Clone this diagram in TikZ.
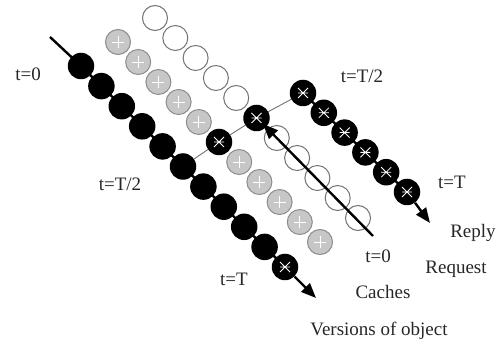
\documentclass[tikz,border=0pt]{standalone}
\usepackage{fontspec}
\setmainfont{Liberation Serif}
\usetikzlibrary{arrows.meta,backgrounds}
\begin{document}
\begin{tikzpicture}[x=1pt,y=-1pt,
  bk/.style={circle,fill=black,minimum size=26.5pt,inner sep=0pt},
  gy/.style={circle,fill=black!22,draw=black!45,line width=1pt,minimum size=25pt,inner sep=0pt,plusmark},
  wt/.style={circle,fill=white,draw=black!55,line width=1pt,minimum size=25pt,inner sep=0pt},
  plusmark/.style={path picture={\draw[white,line width=0.8pt]
     ([xshift=-6pt]path picture bounding box.center) -- ([xshift=6pt]path picture bounding box.center)
     ([yshift=-6pt]path picture bounding box.center) -- ([yshift=6pt]path picture bounding box.center);}},
  xmark/.style={path picture={\draw[white,line width=0.8pt]
     ([shift={(-5pt,-5pt)}]path picture bounding box.center) -- ([shift={(5pt,5pt)}]path picture bounding box.center)
     ([shift={(-5pt,5pt)}]path picture bounding box.center) -- ([shift={(5pt,-5pt)}]path picture bounding box.center)
     ([xshift=-5pt]path picture bounding box.center) -- ([xshift=5pt]path picture bounding box.center);}},
  chain/.style={line width=2.4pt,black},
  arr/.style={chain,-{Triangle[length=15pt,width=12pt]}},
  lbl/.style={font=\fontsize{19}{22}\selectfont,text=black!85,anchor=base,inner sep=0pt}
]
\useasboundingbox (0,0) rectangle (499,342);
% white chain
\foreach \i in {1,...,11}{
  \pgfmathsetmacro\xx{155+20.3*(\i-1)}\pgfmathsetmacro\yy{18+20*(\i-1)}
  \ifnum\i=6 \node[bk,xmark] (W\i) at (\xx,\yy) {};\else \node[wt] (W\i) at (\xx,\yy) {};\fi
}
% grey chain
\foreach \i in {1,...,11}{
  \pgfmathsetmacro\xx{118+20.2*(\i-1)}\pgfmathsetmacro\yy{42+20*(\i-1)}
  \ifnum\i=6 \node[bk,xmark] (G\i) at (\xx,\yy) {};\else \node[gy] (G\i) at (\xx,\yy) {};\fi
}
% black chain
\foreach \i in {1,...,11}{
  \pgfmathsetmacro\xx{81+20.4*(\i-1)}\pgfmathsetmacro\yy{66+20.1*(\i-1)}
  \ifnum\i=11 \node[bk,xmark] (L\i) at (\xx,\yy) {};\else \node[bk] (L\i) at (\xx,\yy) {};\fi
}
% right (reply) chain
\foreach \i in {1,...,6}{
  \pgfmathsetmacro\xx{303+20.8*(\i-1)}\pgfmathsetmacro\yy{93+19.8*(\i-1)}
  \node[bk,xmark] (R\i) at (\xx,\yy) {};
}
\coordinate (Ls) at (50,37);
\coordinate (La) at (316,298);
\coordinate (Ra) at (430,223);
\coordinate (Qs) at (373,236);
\coordinate (Qe) at (263,124);
\begin{scope}[on background layer]
  \draw[chain] (Ls) -- (L1.center) -- (L11.center);
  \draw[chain] (R1.center) -- (R6.center);
  \draw[black!55,line width=0.9pt] (L6.center) -- (G6.center) -- (W6.center) -- (R1.center);
\end{scope}
\draw[arr] (L11) -- (La);
\draw[arr] (R6) -- (Ra);
\draw[arr] (Qs) -- (Qe);
% labels
\node[lbl] (t0a) at (28,81) {t=0};
\node[lbl] (th1) at (120,191) {t=T/2};
\node[lbl] (tt1) at (234,286) {t=T};
\node[lbl] (th2) at (362,83) {t=T/2};
\node[lbl] (tt2) at (452,189) {t=T};
\node[lbl] (rep) at (473,238) {Reply};
\node[lbl] (t0b) at (378,263) {t=0};
\node[lbl] (req) at (456,274) {Request};
\node[lbl] (cac) at (383,299) {Caches};
\node[lbl] (ver) at (379,336) {Versions of object};
\end{tikzpicture}
\end{document}
